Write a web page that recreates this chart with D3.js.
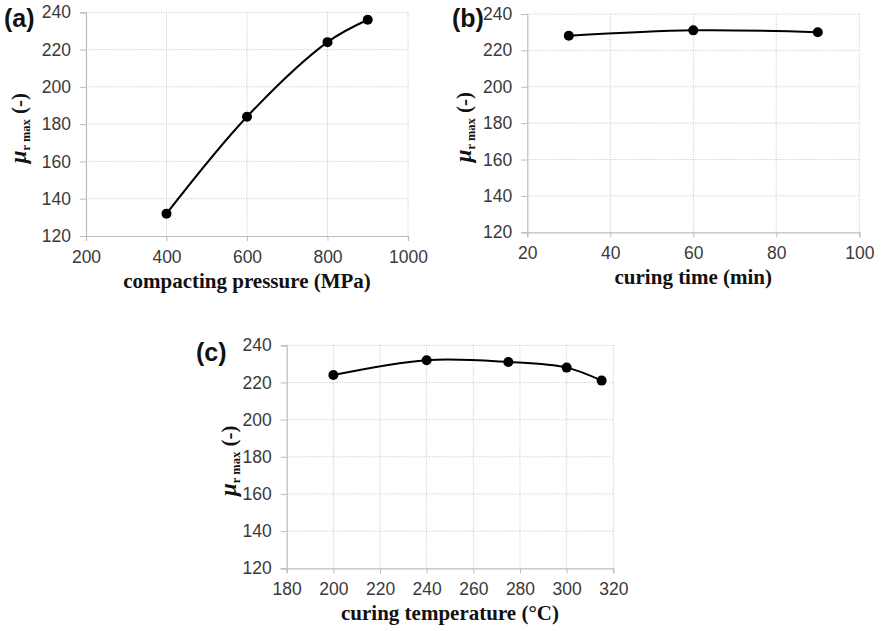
<!DOCTYPE html>
<html>
<head>
<meta charset="utf-8">
<script src="https://cdn.jsdelivr.net/npm/d3@7"></script>
<style>
  body { margin: 0; background: #fff; }
  svg { display: block; }
  .tick-label { font-family: "Liberation Sans", Arial, sans-serif; font-size: 17.5px; fill: #3a3a3a; }
  .axis-title { font-family: "Liberation Serif", "Times New Roman", serif; font-weight: bold; font-size: 21px; fill: #111; }
  .panel-tag { font-family: "Liberation Sans", Arial, sans-serif; font-weight: bold; font-size: 25px; fill: #111; }
</style>
</head>
<body>
<svg id="chart" width="882" height="631"></svg>
<script>
// (a) 압축 압력
const pressure = [400, 600, 800, 900];
const muPressure = [132, 184, 224, 236];
const pressureTicks = [200, 400, 600, 800, 1000];

// (b) 경화 시간
const cureTime = [30, 60, 90];
const muTime = [228, 231, 230];
const timeTicks = [20, 40, 60, 80, 100];

// (c) 경화 온도
const cureTemp = [200, 240, 275, 300, 315];
const muTemp = [224, 232, 231, 228, 221];
const tempTicks = [180, 200, 220, 240, 260, 280, 300, 320];

const muTicks = [120, 140, 160, 180, 200, 220, 240];

const svg = d3.select("#chart");

function drawPanel(p) {
  const g = svg.append("g");
  const x = d3.scaleLinear().domain(d3.extent(p.xTicks)).range([p.left, p.right]);
  const y = d3.scaleLinear().domain(d3.extent(muTicks)).range([p.bottom, p.top]);

  // 점선 그리드
  g.append("g").selectAll("line")
    .data(p.xTicks.slice(1))
    .join("line")
    .attr("x1", d => x(d)).attr("x2", d => x(d))
    .attr("y1", p.top).attr("y2", p.bottom)
    .attr("stroke", "#c4c4c4").attr("stroke-dasharray", "1,1.5");
  g.append("g").selectAll("line")
    .data(muTicks.slice(1))
    .join("line")
    .attr("x1", p.left).attr("x2", p.right)
    .attr("y1", d => y(d)).attr("y2", d => y(d))
    .attr("stroke", "#c4c4c4").attr("stroke-dasharray", "1,1.5");

  // 축 (실선 + 바깥 눈금)
  const xAxis = g.append("g")
    .attr("transform", `translate(0,${p.bottom})`)
    .call(d3.axisBottom(x).tickValues(p.xTicks).tickFormat(d3.format("d")).tickSize(5).tickPadding(6));
  const yAxis = g.append("g")
    .attr("transform", `translate(${p.left},0)`)
    .call(d3.axisLeft(y).tickValues(muTicks).tickFormat(d3.format("d")).tickSize(6).tickPadding(9));
  [xAxis, yAxis].forEach(a => {
    a.select(".domain").attr("stroke", "#bdbdbd").attr("stroke-width", 1.2);
    a.selectAll(".tick line").attr("stroke", "#bdbdbd");
    a.selectAll(".tick text").attr("class", "tick-label").attr("fill", null);
    a.attr("font-size", null).attr("font-family", null);
  });
  xAxis.selectAll(".tick text").attr("dy", "0.9em");

  // 곡선 + 마커
  const pts = p.xs.map((v, i) => [v, p.ys[i]]);
  g.append("path")
    .datum(pts)
    .attr("fill", "none")
    .attr("stroke", "#000")
    .attr("stroke-width", 2)
    .attr("d", d3.line().x(d => x(d[0])).y(d => y(d[1])).curve(d3.curveCatmullRom.alpha(0.5)));
  g.append("g").selectAll("circle")
    .data(pts)
    .join("circle")
    .attr("cx", d => x(d[0])).attr("cy", d => y(d[1]))
    .attr("r", 5).attr("fill", "#000");

  // x축 제목
  g.append("text")
    .attr("class", "axis-title")
    .attr("x", (p.left + p.right) / 2)
    .attr("y", p.bottom + 52)
    .attr("text-anchor", "middle")
    .text(p.xTitle);

  // y축 제목: μ_r max (-)
  const yt = g.append("text")
    .attr("class", "axis-title")
    .attr("text-anchor", "middle")
    .attr("transform", `translate(${p.yLabelX},${(p.top + p.bottom) / 2 + 4}) rotate(-90)`);
  yt.append("tspan").attr("font-style", "italic").attr("font-size", 23).text("μ");
  yt.append("tspan").attr("font-size", 12.5).attr("dy", 4).text("r max");
  yt.append("tspan").attr("dy", -4).text(" (-)");

  // 패널 표시
  g.append("text")
    .attr("class", "panel-tag")
    .attr("x", p.tagX).attr("y", p.tagY)
    .text(p.tag);
}

drawPanel({
  tag: "(a)", tagX: 4, tagY: 27,
  xs: pressure, ys: muPressure, xTicks: pressureTicks,
  left: 86, right: 408, top: 12.3, bottom: 236,
  yLabelX: 26, xTitle: "compacting pressure (MPa)"
});
drawPanel({
  tag: "(b)", tagX: 452, tagY: 27,
  xs: cureTime, ys: muTime, xTicks: timeTicks,
  left: 527.3, right: 859.3, top: 14, bottom: 232.3,
  yLabelX: 471, xTitle: "curing time (min)"
});
drawPanel({
  tag: "(c)", tagX: 196, tagY: 361,
  xs: cureTemp, ys: muTemp, xTicks: tempTicks,
  left: 286.7, right: 613.3, top: 345.3, bottom: 568.3,
  yLabelX: 236, xTitle: "curing temperature (°C)"
});
</script>
</body>
</html>
